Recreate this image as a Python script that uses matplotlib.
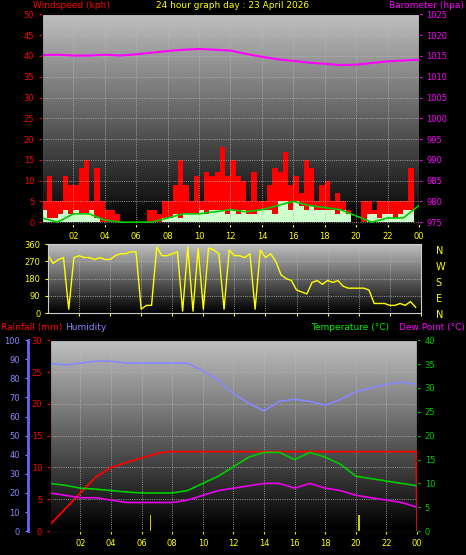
import numpy as np
import matplotlib.pyplot as plt

# wind, 20 minute steps
t20 = np.arange(72) / 3.0
gust = [5, 11, 5, 5, 11, 9, 9, 13, 15, 5, 13, 5, 3, 3, 2, 0, 0, 0, 0, 0, 3, 3, 2, 5,
        5, 9, 15, 9, 5, 11, 5, 12, 11, 12, 18, 11, 15, 11, 10, 5, 12, 5, 5, 9, 13, 12, 17, 9,
        11, 7, 15, 13, 5, 9, 10, 5, 7, 5, 3, 0, 0, 5, 5, 3, 5, 5, 5, 5, 5, 5, 13, 5]
avg_fill = [3, 1, 1, 2, 3, 2, 3, 2, 2, 3, 1, 0, 0, 0, 0, 0, 0, 0, 0, 0, 0, 0, 0, 1,
            1, 2, 1, 2, 2, 2, 3, 2, 3, 3, 3, 2, 3, 2, 3, 2, 2, 3, 3, 3, 2, 5, 5, 3,
            5, 4, 3, 4, 3, 3, 3, 3, 2, 3, 2, 0, 0, 0, 2, 2, 1, 2, 2, 1, 2, 3, 3, 3]
hours = np.arange(25)
avg_line = [1, 0, 2, 2, 0.5, 0, 0, 0, 1, 2, 2, 2.5, 3, 2.5, 3, 4, 5, 4, 3.5, 3, 1.5, 0, 1, 1, 4]
baro = [1015.2, 1015.3, 1015.1, 1015.1, 1015.3, 1015.1, 1015.4, 1015.8, 1016.2, 1016.5, 1016.7,
        1016.5, 1016.3, 1015.5, 1014.8, 1014.2, 1013.8, 1013.4, 1013.1, 1012.8, 1012.9, 1013.3,
        1013.7, 1013.9, 1014.1]

wdir = [300, 260, 280, 290, 20, 290, 300, 290, 290, 280, 290, 280, 280, 300, 310, 310, 320, 320,
        20, 40, 40, 345, 300, 300, 310, 320, 10, 345, 10, 340, 20, 340, 330, 310, 20, 330,
        300, 300, 290, 310, 20, 330, 290, 310, 270, 200, 180, 170, 120, 110, 100, 160, 170, 150,
        170, 160, 170, 140, 130, 130, 130, 130, 120, 50, 50, 50, 40, 40, 50, 40, 60, 30]

humidity = [88, 87, 88, 89, 89, 88, 88, 88, 88, 88, 84, 79, 72, 67, 63, 68, 69, 68, 66, 69, 73, 75, 77, 78, 77]
temp = [10, 9.6, 9, 8.8, 8.5, 8.2, 8, 8, 8, 8.5, 10, 11.5, 13.5, 15.5, 16.5, 16.5, 15, 16.5, 15.5, 14,
        11.5, 11, 10.5, 10, 9.5]
dew = [8, 7.5, 7, 7, 6.5, 6, 6, 6, 6, 6.5, 7.5, 8.5, 9, 9.5, 10, 10, 9, 10, 9, 8.5, 7.5, 7, 6.5, 6, 5]
rain_t = [0, 1, 2, 3, 4, 5, 6, 7, 7.8, 23.95, 24]
rain = [1, 3.5, 6, 8.5, 10, 10.8, 11.5, 12.2, 12.5, 12.5, 0]
rate_t = [6.6, 20.2]
rate = [2.5, 2.5]

xt = list(range(2, 25, 2))
xtl = ['%02d' % (h % 24) for h in xt]

fig = plt.figure(figsize=(4.66, 5.55), dpi=100, facecolor='black')
grad = np.linspace(0.75, 0.0, 100).reshape(-1, 1)


def base(ax, ylim):
    ax.set_facecolor('black')
    ax.imshow(grad, extent=[0, 24, ylim[0], ylim[1]], aspect='auto', cmap='gray',
              vmin=0, vmax=1, zorder=0)
    ax.set_xlim(0, 24)
    ax.set_ylim(*ylim)
    ax.grid(True, color='#bbbbbb', ls=':', lw=0.6)
    for s in ax.spines.values():
        s.set_color('#cccccc')
    ax.set_xticks(xt)
    ax.set_xticklabels(xtl, color='yellow', fontsize=6)
    ax.tick_params(colors='yellow', labelsize=6, length=2)


# panel 1
ax1 = fig.add_axes([0.090, 0.596, 0.809, 0.378])
base(ax1, (-0.5, 50))
ax1.fill_between(t20, gust, step='post', color='red', lw=0)
ax1.fill_between(t20, avg_fill, step='post', color='#ccffcc', lw=0)
ax1.plot(hours, avg_line, color='#00cc00', lw=1.2)
ax1.set_yticks(range(0, 51, 5))
ax1.tick_params(axis='y', colors='red')
ax1b = ax1.twinx()
ax1b.set_ylim(974.5, 1025)
ax1b.plot(hours, baro, color='#ff00ff', lw=1.5)
ax1b.set_yticks(range(975, 1026, 5))
ax1b.tick_params(colors='#ff00ff', labelsize=6, length=2)
fig.text(0.07, 0.998, 'Windspeed (kph)', color='red', fontsize=6.5, va='top')
fig.text(0.5, 0.998, '24 hour graph day : 23 April 2026', color='yellow', fontsize=6.5, va='top', ha='center')
fig.text(0.995, 0.998, 'Barometer (hpa)', color='#ff00ff', fontsize=6.5, va='top', ha='right')

# panel 2
ax2 = fig.add_axes([0.103, 0.436, 0.800, 0.124])
base(ax2, (0, 360))
ax2.plot(t20, wdir, color='yellow', lw=1)
ax2.set_yticks(range(0, 361, 90))
ax2.set_xticklabels([])
for i, c in enumerate(['N', 'W', 'S', 'E', 'N']):
    fig.text(0.935, 0.557 - i * 0.029, c, color='yellow', fontsize=7, va='top')

# panel 3
ax3 = fig.add_axes([0.107, 0.043, 0.788, 0.344])
base(ax3, (0, 30))
ax3.plot(rain_t, rain, color='red', lw=1.3)
ax3.bar(rate_t, rate, width=0.08, color='#cccc00')
ax3.set_yticks(range(0, 31, 5))
ax3.tick_params(axis='y', colors='red')
ax3.spines['left'].set_color('red')
ax3h = ax3.twinx()
ax3h.set_ylim(0, 100)
ax3h.plot(hours, humidity, color='#8888ff', lw=1.2)
ax3h.yaxis.set_ticks_position('left')
ax3h.spines['left'].set_position(('outward', 16))
ax3h.spines['left'].set_color('#6666ff')
ax3h.spines['left'].set_linewidth(2)
ax3h.set_yticks(range(0, 101, 10))
ax3h.tick_params(colors='#8888ff', labelsize=6, length=2)
ax3t = ax3.twinx()
ax3t.set_ylim(0, 40)
ax3t.plot(hours, temp, color='#00cc00', lw=1.2)
ax3t.plot(hours, dew, color='#ee00ee', lw=1.2)
ax3t.set_yticks(range(0, 41, 5))
ax3t.tick_params(colors='#00cc00', labelsize=6, length=2)
fig.text(0.003, 0.405, 'Rainfall (mm)', color='red', fontsize=6.5)
fig.text(0.14, 0.405, 'Humidity', color='#8888ff', fontsize=6.5)
fig.text(0.835, 0.405, 'Temperature (°C)', color='#00ee00', fontsize=6.5, ha='right')
fig.text(0.997, 0.405, 'Dew Point (°C)', color='#ff00ff', fontsize=6.5, ha='right')

fig.savefig('out.png', dpi=100, facecolor='black')
